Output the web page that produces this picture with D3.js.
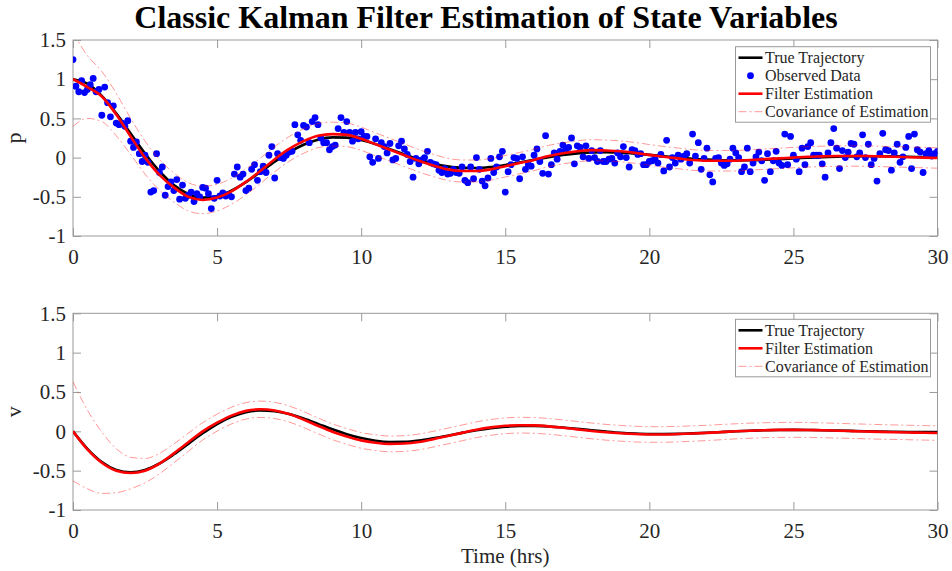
<!DOCTYPE html>
<html>

<head>
  <meta charset="utf-8">
  <style>
    body {
      margin: 0;
      background: #ffffff;
    }

    text {
      font-family: 'Times New Roman', 'Liberation Serif', serif;
      fill: #262626;
    }

    .axis path {
      display: none;
    }

    .axis line {
      stroke: #9a9a9a;
    }
  </style>
</head>

<body>
  <div id="chart"></div>
  <script src="https://d3js.org/d3.v7.min.js"></script>
  <script>
    // time grid of the estimates (every 0.5 hr) and of the measurements (every 0.1 hr)
    var tEst = d3.range(61).map(function (i) { return i * 0.5; });
    var tObs = d3.range(301).map(function (i) { return i / 10; });

    var pTrue = [1.000, 0.943, 0.787, 0.564, 0.308, 0.052, -0.174, -0.351, -0.464, -0.510,
      -0.493, -0.422, -0.313, -0.185, -0.052, 0.068, 0.164, 0.228, 0.258, 0.255,
      0.224, 0.172, 0.108, 0.040, -0.023, -0.075, -0.112, -0.131, -0.132, -0.119,
      -0.094, -0.062, -0.027, 0.006, 0.034, 0.054, 0.065, 0.068, 0.063, 0.051,
      0.035, 0.017, 0.000, -0.015, -0.026, -0.033, -0.035, -0.033, -0.027, -0.020,
      -0.011, -0.002, 0.006, 0.012, 0.016, 0.018, 0.017, 0.015, 0.011, 0.006, 0.002];

    var pEst = [1.00, 0.90, 0.78, 0.55, 0.27, 0.00, -0.22, -0.38, -0.50, -0.54,
      -0.51, -0.43, -0.31, -0.17, -0.02, 0.11, 0.21, 0.28, 0.30, 0.29,
      0.24, 0.17, 0.10, 0.03, -0.04, -0.10, -0.15, -0.17, -0.17, -0.15,
      -0.11, -0.07, -0.03, 0.02, 0.055, 0.08, 0.095, 0.09, 0.08, 0.06,
      0.035, 0.01, -0.01, -0.03, -0.04, -0.04, -0.04, -0.03, -0.02, -0.01,
      0.00, 0.01, 0.015, 0.02, 0.02, 0.02, 0.015, 0.01, 0.005, 0.00, -0.005];

    var pSigma = [0.60, 0.40, 0.32, 0.27, 0.23, 0.21, 0.195, 0.185, 0.18, 0.175,
      0.17, 0.167, 0.165, 0.163, 0.16, 0.158, 0.156, 0.154, 0.152, 0.15,
      0.148, 0.146, 0.145, 0.144, 0.143, 0.142, 0.141, 0.14, 0.139, 0.138,
      0.137, 0.136, 0.136, 0.135, 0.135, 0.134, 0.134, 0.133, 0.133, 0.133,
      0.132, 0.132, 0.132, 0.131, 0.131, 0.131, 0.131, 0.13, 0.13, 0.13,
      0.13, 0.13, 0.13, 0.13, 0.13, 0.13, 0.13, 0.13, 0.13, 0.13, 0.13];

    var pObs = [1.25, 0.91, 0.84, 0.98, 0.83, 0.87, 0.93, 1.01, 0.84, 0.87,
      0.54, 0.90, 0.70, 0.52, 0.66, 0.44, 0.42, 0.44, 0.40, 0.47,
      0.21, 0.13, 0.20, 0.05, -0.05, 0.03, -0.06, -0.44, -0.42, 0.05,
      -0.19, -0.12, -0.48, -0.37, -0.31, -0.42, -0.28, -0.53, -0.35, -0.52,
      -0.48, -0.44, -0.56, -0.46, -0.50, -0.38, -0.39, -0.46, -0.65, -0.52,
      -0.29, -0.49, -0.45, -0.49, -0.47, -0.50, -0.21, -0.12, -0.25, -0.21,
      -0.42, -0.39, -0.15, -0.09, -0.29, -0.18, -0.11, -0.19, 0.03, 0.14,
      -0.26, 0.05, 0.00, -0.01, 0.03, 0.07, 0.08, 0.42, 0.29, 0.22,
      0.41, 0.39, 0.19, 0.46, 0.51, 0.42, 0.25, 0.19, 0.19, 0.10,
      0.14, 0.16, 0.37, 0.51, 0.32, 0.46, 0.32, 0.21, 0.32, 0.24,
      0.33, 0.27, 0.27, 0.01, -0.06, 0.24, -0.01, 0.19, 0.14, 0.06,
      0.18, -0.03, -0.01, 0.15, 0.21, 0.11, 0.04, -0.05, -0.25, -0.01,
      -0.08, -0.03, 0.00, 0.08, -0.06, -0.08, -0.09, -0.16, -0.19, -0.14,
      -0.21, -0.20, -0.15, -0.19, -0.20, -0.12, -0.29, -0.32, -0.12, -0.27,
      0.00, -0.15, -0.30, -0.36, -0.26, -0.01, -0.19, -0.12, 0.01, 0.08,
      -0.44, -0.18, -0.09, 0.00, -0.01, -0.27, 0.01, -0.15, -0.09, -0.11,
      0.03, 0.11, -0.05, -0.20, 0.28, -0.21, -0.09, 0.06, -0.02, 0.08,
      0.16, 0.10, 0.13, 0.25, -0.08, 0.15, 0.13, 0.01, 0.15, -0.01,
      0.09, 0.00, -0.05, 0.09, -0.05, -0.05, -0.02, -0.01, -0.07, 0.06,
      0.01, 0.14, 0.00, -0.12, 0.10, 0.09, 0.04, 0.05, -0.09, -0.09,
      -0.05, -0.04, -0.02, -0.07, 0.04, -0.17, 0.22, -0.12, 0.00, -0.07,
      0.03, -0.02, 0.02, 0.05, -0.07, 0.30, 0.02, 0.19, -0.15, -0.01,
      0.12, -0.22, -0.31, -0.01, 0.00, -0.07, -0.10, -0.08, -0.02, 0.12,
      0.06, 0.00, -0.18, -0.12, 0.12, -0.18, -0.07, 0.01, 0.07, -0.04,
      -0.29, 0.05, -0.18, -0.04, 0.08, -0.07, -0.10, 0.30, -0.09, 0.27,
      0.03, -0.02, -0.18, 0.12, -0.09, 0.14, 0.19, 0.03, 0.03, 0.03,
      -0.08, -0.25, 0.06, 0.19, 0.37, 0.12, -0.14, 0.09, 0.00, 0.07,
      0.18, 0.17, 0.01, 0.06, 0.29, 0.00, 0.17, -0.09, -0.01, -0.30,
      0.05, 0.31, 0.10, 0.09, -0.16, 0.06, 0.17, -0.06, 0.01, 0.13,
      0.27, -0.14, 0.30, 0.10, 0.07, -0.19, 0.05, 0.09, 0.02, 0.05,
      0.08];

    var vTrue = [0.000, -0.222, -0.390, -0.490, -0.522, -0.491, -0.409, -0.292, -0.159, -0.025,
      0.093, 0.184, 0.243, 0.266, 0.256, 0.219, 0.162, 0.095, 0.026, -0.036,
      -0.086, -0.120, -0.135, -0.133, -0.117, -0.089, -0.056, -0.020, 0.013, 0.040,
      0.058, 0.068, 0.069, 0.062, 0.049, 0.032, 0.014, -0.003, -0.018, -0.028,
      -0.034, -0.035, -0.033, -0.026, -0.018, -0.009, 0.000, 0.008, 0.014, 0.017,
      0.018, 0.017, 0.014, 0.010, 0.006, 0.001, -0.003, -0.006, -0.008, -0.009, -0.009];

    var vEst = [0.00, -0.23, -0.40, -0.50, -0.53, -0.50, -0.41, -0.28, -0.14, 0.00,
      0.11, 0.20, 0.26, 0.28, 0.265, 0.22, 0.15, 0.07, -0.005, -0.065,
      -0.115, -0.145, -0.16, -0.155, -0.135, -0.10, -0.06, -0.02, 0.02, 0.05,
      0.07, 0.078, 0.075, 0.063, 0.045, 0.025, 0.005, -0.012, -0.025, -0.035,
      -0.04, -0.04, -0.035, -0.028, -0.02, -0.01, 0.00, 0.008, 0.014, 0.018,
      0.019, 0.017, 0.013, 0.008, 0.003, -0.002, -0.007, -0.011, -0.015, -0.019, -0.022];

    var vSigma = [0.63, 0.50, 0.39, 0.28, 0.20, 0.155, 0.13, 0.12, 0.115, 0.11,
      0.108, 0.106, 0.105, 0.104, 0.103, 0.102, 0.101, 0.10, 0.10, 0.10,
      0.10, 0.10, 0.10, 0.10, 0.10, 0.10, 0.10, 0.10, 0.10, 0.10,
      0.10, 0.10, 0.10, 0.10, 0.10, 0.10, 0.10, 0.10, 0.10, 0.10,
      0.099, 0.099, 0.098, 0.098, 0.097, 0.097, 0.096, 0.096, 0.095, 0.095,
      0.095, 0.094, 0.094, 0.094, 0.093, 0.093, 0.093, 0.092, 0.092, 0.092, 0.092];

    var xTicks = [0, 5, 10, 15, 20, 25, 30];
    var yTicks = [-1, -0.5, 0, 0.5, 1, 1.5];
    var yTickLabels = ['-1', '-0.5', '0', '0.5', '1', '1.5'];

    var width = 952, height = 571;
    var left = 73, right = 937.5;
    var serif = "'Times New Roman', 'Liberation Serif', serif";
    var covColor = '#ff0000';

    var svg = d3.select('#chart').append('svg')
      .attr('width', width)
      .attr('height', height);

    var x = d3.scaleLinear().domain([0, 30]).range([left, right]);

    function drawPanel(top, bottom, name, trueVals, estVals, sigma, obsVals, legendTop) {
      var y = d3.scaleLinear().domain([-1, 1.5]).range([bottom, top]);
      var g = svg.append('g');

      g.append('clipPath')
        .attr('id', 'clip-' + name)
        .append('rect')
        .attr('x', left).attr('y', top)
        .attr('width', right - left).attr('height', bottom - top);

      // axes: labelled bottom/left, tick-only top/right
      g.append('g')
        .attr('class', 'axis')
        .attr('font-family', serif)
        .attr('transform', 'translate(0,' + bottom + ')')
        .call(d3.axisBottom(x).tickValues(xTicks).tickSize(-8).tickPadding(13))
        .selectAll('text')
        .style('font-family', serif)
        .style('font-size', '21px')
        .attr('fill', '#262626');
      g.append('g')
        .attr('class', 'axis')
        .attr('transform', 'translate(0,' + top + ')')
        .call(d3.axisTop(x).tickValues(xTicks).tickSize(-8).tickFormat(''));
      g.append('g')
        .attr('class', 'axis')
        .attr('font-family', serif)
        .attr('transform', 'translate(' + left + ',0)')
        .call(d3.axisLeft(y).tickValues(yTicks).tickSize(-8).tickPadding(7)
          .tickFormat(function (d, i) { return yTickLabels[i]; }))
        .selectAll('text')
        .style('font-family', serif)
        .style('font-size', '21px')
        .attr('fill', '#262626');
      g.append('g')
        .attr('class', 'axis')
        .attr('transform', 'translate(' + right + ',0)')
        .call(d3.axisRight(y).tickValues(yTicks).tickSize(-8).tickFormat(''));

      g.append('rect')
        .attr('x', left).attr('y', top)
        .attr('width', right - left).attr('height', bottom - top)
        .style('fill', 'none')
        .style('stroke', '#9a9a9a')
        .style('stroke-width', 1);

      g.append('text')
        .attr('transform', 'translate(21,' + (top + bottom) / 2 + ') rotate(-90)')
        .attr('text-anchor', 'middle')
        .style('font-size', '22px')
        .text(name);

      var plot = g.append('g').attr('clip-path', 'url(#clip-' + name + ')');
      var line = d3.line()
        .x(function (d, i) { return x(tEst[i]); })
        .y(function (d) { return y(d); })
        .curve(d3.curveMonotoneX);

      plot.append('path')
        .datum(trueVals)
        .attr('d', line)
        .style('fill', 'none')
        .style('stroke', '#000000')
        .style('stroke-width', 2.6);

      if (obsVals) {
        plot.selectAll('.obs')
          .data(obsVals)
          .enter()
          .append('circle')
          .attr('class', 'obs')
          .attr('cx', function (d, i) { return x(tObs[i]); })
          .attr('cy', function (d) { return y(d); })
          .attr('r', 3.4)
          .style('fill', '#0000ff');
      }

      plot.append('path')
        .datum(estVals)
        .attr('d', line)
        .style('fill', 'none')
        .style('stroke', '#ff0000')
        .style('stroke-width', 2.6);

      [1, -1].forEach(function (s) {
        plot.append('path')
          .datum(estVals.map(function (d, i) { return d + s * sigma[i]; }))
          .attr('d', line)
          .style('fill', 'none')
          .style('stroke', covColor)
          .style('stroke-opacity', 0.45)
          .style('stroke-width', 0.9)
          .style('stroke-dasharray', '8,3,2,3');
      });

      // legend
      var items = [{ label: 'True Trajectory', type: 'true' }];
      if (obsVals) items.push({ label: 'Observed Data', type: 'obs' });
      items.push({ label: 'Filter Estimation', type: 'est' });
      items.push({ label: 'Covariance of Estimation', type: 'cov' });

      var lg = g.append('g');
      lg.append('rect')
        .attr('x', 735.5).attr('y', legendTop)
        .attr('width', 195).attr('height', items.length * 18 + 3.5)
        .style('fill', '#ffffff')
        .style('stroke', '#9a9a9a')
        .style('stroke-width', 1);

      items.forEach(function (item, i) {
        var cy = legendTop + 11 + i * 18;
        if (item.type === 'obs') {
          lg.append('circle')
            .attr('cx', 750.5).attr('cy', cy).attr('r', 3.4)
            .style('fill', '#0000ff');
        } else {
          var sample = lg.append('line')
            .attr('x1', 738.5).attr('x2', 762.5)
            .attr('y1', cy).attr('y2', cy)
            .style('stroke', item.type === 'true' ? '#000000' : '#ff0000')
            .style('stroke-width', item.type === 'cov' ? 0.9 : 2.6);
          if (item.type === 'cov') {
            sample.style('stroke-opacity', 0.45).style('stroke-dasharray', '8,3,2,3');
          }
        }
        lg.append('text')
          .attr('x', 765)
          .attr('y', cy + 5.5)
          .style('font-size', '16px')
          .text(item.label);
      });
    }

    drawPanel(40, 236, 'p', pTrue, pEst, pSigma, pObs, 46.7);
    drawPanel(313.3, 510, 'v', vTrue, vEst, vSigma, null, 319.3);

    svg.append('text')
      .attr('x', 486)
      .attr('y', 28)
      .attr('text-anchor', 'middle')
      .style('font-size', '32px')
      .style('font-weight', 'bold')
      .style('fill', '#000000')
      .text('Classic Kalman Filter Estimation of State Variables');

    svg.append('text')
      .attr('x', (left + right) / 2)
      .attr('y', 563)
      .attr('text-anchor', 'middle')
      .style('font-size', '21px')
      .text('Time (hrs)');
  </script>
</body>

</html>
